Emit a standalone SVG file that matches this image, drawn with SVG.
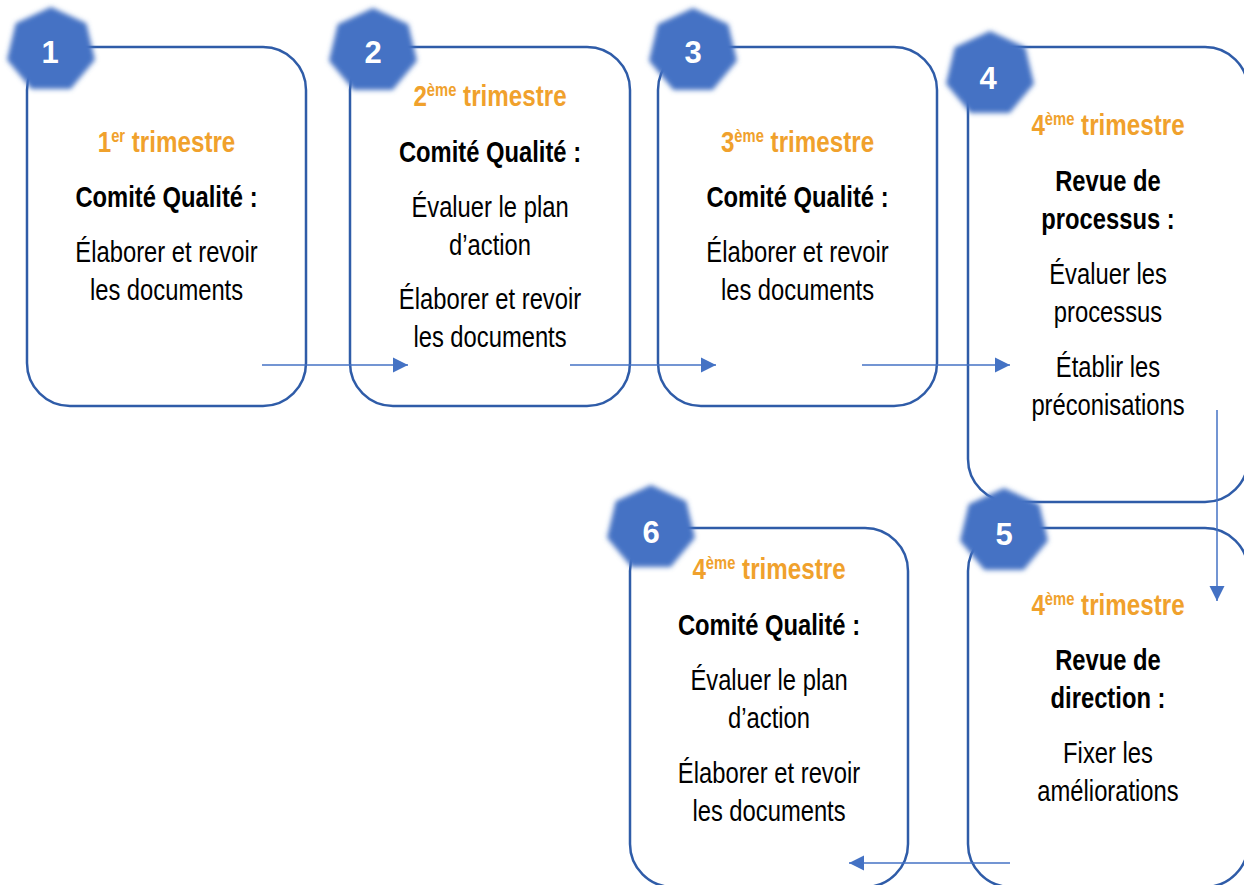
<svg xmlns="http://www.w3.org/2000/svg" width="1244" height="885" viewBox="0 0 1244 885">
  <style>
    .box { fill: #ffffff; stroke: #2F5CA8; stroke-width: 2.5; }
    .badge { fill: #4472C4; }
    .num { font-family: "Liberation Sans", Arial, sans-serif; font-size: 31px; font-weight: bold; fill: #ffffff; text-anchor: middle; }
    .t { font-family: "Liberation Sans", Arial, sans-serif; font-size: 29px; text-anchor: middle; fill: #000000; }
    .b { font-weight: bold; }
    .o { font-weight: bold; fill: #F0A12C; font-size: 29.5px; }
    .sup { font-size: 18px; }
    .conn { fill: none; stroke: #4472C4; stroke-width: 1.5; marker-end: url(#arrow); }
  </style>
  <defs>
    <filter id="soft" x="-30%" y="-30%" width="160%" height="160%">
      <feGaussianBlur stdDeviation="2.8"/>
    </filter>
    <polygon id="hept" points="0,-41 35.3,-24.7 44,11.8 19.6,41 -19.6,41 -44,11.8 -35.3,-24.7"/>
    <marker id="arrow" markerUnits="userSpaceOnUse" markerWidth="16" markerHeight="16" viewBox="0 0 16 16" refX="15" refY="8" orient="auto">
      <path d="M0,0.5 L15,8 L0,15.5 Z" fill="#4472C4"/>
    </marker>
  </defs>

  <g id="node1">
    <rect class="box" x="27" y="47" width="279" height="359" rx="43" ry="43"/>
    <use href="#hept" class="badge" x="51" y="48" filter="url(#soft)"/>
    <text class="num" x="50" y="63">1</text>
    <g transform="translate(166.5 0) scale(0.82 1)">
      <text class="t o" x="0" y="152">1<tspan class="sup" dy="-10">er</tspan><tspan dy="10"> trimestre</tspan></text>
      <text class="t b" x="0" y="207">Comité Qualité :</text>
      <text class="t" x="0" y="262">Élaborer et revoir</text>
      <text class="t" x="0" y="300">les documents</text>
    </g>
  </g>

  <g id="node2">
    <rect class="box" x="350" y="47" width="280" height="359" rx="43" ry="43"/>
    <use href="#hept" class="badge" x="373" y="49" filter="url(#soft)"/>
    <text class="num" x="373" y="63">2</text>
    <g transform="translate(490 0) scale(0.82 1)">
      <text class="t o" x="0" y="106">2<tspan class="sup" dy="-10">ème</tspan><tspan dy="10"> trimestre</tspan></text>
      <text class="t b" x="0" y="162">Comité Qualité :</text>
      <text class="t" x="0" y="217">Évaluer le plan</text>
      <text class="t" x="0" y="255">d’action</text>
      <text class="t" x="0" y="309">Élaborer et revoir</text>
      <text class="t" x="0" y="347">les documents</text>
    </g>
  </g>

  <g id="node3">
    <rect class="box" x="658" y="47" width="279" height="359" rx="43" ry="43"/>
    <use href="#hept" class="badge" x="693" y="49" filter="url(#soft)"/>
    <text class="num" x="693" y="63">3</text>
    <g transform="translate(797.5 0) scale(0.82 1)">
      <text class="t o" x="0" y="152">3<tspan class="sup" dy="-10">ème</tspan><tspan dy="10"> trimestre</tspan></text>
      <text class="t b" x="0" y="207">Comité Qualité :</text>
      <text class="t" x="0" y="262">Élaborer et revoir</text>
      <text class="t" x="0" y="300">les documents</text>
    </g>
  </g>

  <g id="node4">
    <rect class="box" x="968" y="47" width="280" height="455" rx="43" ry="43"/>
    <use href="#hept" class="badge" x="990" y="72" filter="url(#soft)"/>
    <text class="num" x="988" y="89">4</text>
    <g transform="translate(1108 0) scale(0.82 1)">
      <text class="t o" x="0" y="135">4<tspan class="sup" dy="-10">ème</tspan><tspan dy="10"> trimestre</tspan></text>
      <text class="t b" x="0" y="191">Revue de</text>
      <text class="t b" x="0" y="229">processus :</text>
      <text class="t" x="0" y="284">Évaluer les</text>
      <text class="t" x="0" y="322">processus</text>
      <text class="t" x="0" y="377">Établir les</text>
      <text class="t" x="0" y="415">préconisations</text>
    </g>
  </g>

  <g id="node5">
    <rect class="box" x="968" y="528" width="280" height="359" rx="43" ry="43"/>
    <use href="#hept" class="badge" x="1004" y="529" filter="url(#soft)"/>
    <text class="num" x="1004" y="545">5</text>
    <g transform="translate(1108 0) scale(0.82 1)">
      <text class="t o" x="0" y="615">4<tspan class="sup" dy="-10">ème</tspan><tspan dy="10"> trimestre</tspan></text>
      <text class="t b" x="0" y="670">Revue de</text>
      <text class="t b" x="0" y="708">direction :</text>
      <text class="t" x="0" y="763">Fixer les</text>
      <text class="t" x="0" y="801">améliorations</text>
    </g>
  </g>

  <g id="node6">
    <rect class="box" x="630" y="528" width="278" height="359" rx="43" ry="43"/>
    <use href="#hept" class="badge" x="651" y="526" filter="url(#soft)"/>
    <text class="num" x="651" y="543">6</text>
    <g transform="translate(769 0) scale(0.82 1)">
      <text class="t o" x="0" y="579">4<tspan class="sup" dy="-10">ème</tspan><tspan dy="10"> trimestre</tspan></text>
      <text class="t b" x="0" y="635">Comité Qualité :</text>
      <text class="t" x="0" y="690">Évaluer le plan</text>
      <text class="t" x="0" y="728">d’action</text>
      <text class="t" x="0" y="783">Élaborer et revoir</text>
      <text class="t" x="0" y="821">les documents</text>
    </g>
  </g>

  <g id="connectors">
    <line class="conn" x1="262" y1="365" x2="408" y2="365"/>
    <line class="conn" x1="570" y1="365" x2="716" y2="365"/>
    <line class="conn" x1="862" y1="365" x2="1010" y2="365"/>
    <line class="conn" x1="1217" y1="410" x2="1217" y2="601"/>
    <line class="conn" x1="1010" y1="863" x2="849" y2="863"/>
  </g>
</svg>
